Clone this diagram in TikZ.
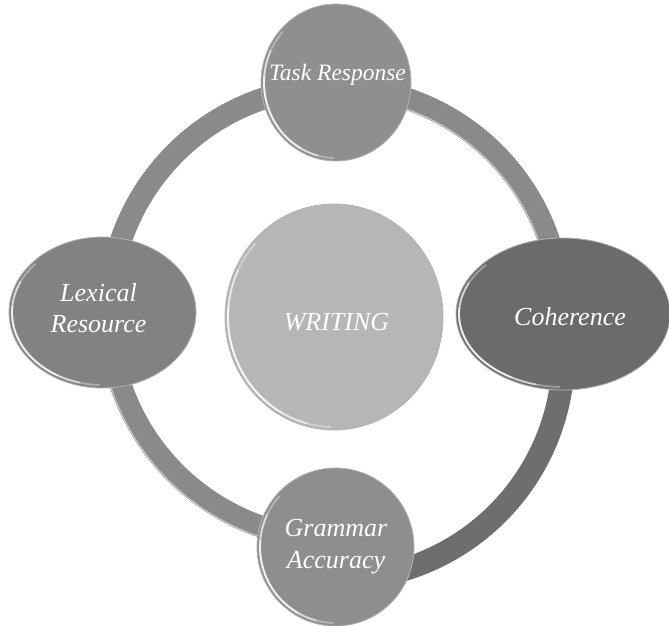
\documentclass[tikz,border=0pt]{standalone}
\usepackage{fontspec}
\setmainfont{Liberation Serif}
\usetikzlibrary{shapes.geometric,calc}
\definecolor{ringc}{HTML}{8A8A8A}
\definecolor{ringd}{HTML}{6E6E6E}
\definecolor{trc}{HTML}{8F8F8F}
\definecolor{lrc}{HTML}{828282}
\definecolor{coc}{HTML}{6B6B6B}
\definecolor{gac}{HTML}{8E8E8E}
\definecolor{wrc}{HTML}{B6B6B6}
\tikzset{
  bubble/.style={ellipse, inner sep=0pt, draw=black!30, line width=0.8pt},
  lbl/.style={text=white, font=\fontsize{26}{32}\selectfont\itshape, anchor=base, inner sep=0pt},
  ringband/.style={line width=22pt, draw=ringc},
  rimhi/.style={draw=white, line cap=round, line width=1.8pt},
  ringhi/.style={draw=white, opacity=.6, line width=1pt},
}
\newcommand\rimlight[3]{%
  \draw[rimhi, opacity=.35] ($(#1.center)+(92:#2 and #3)$) arc[start angle=92,end angle=222,x radius=#2,y radius=#3];
  \draw[rimhi, opacity=.55] ($(#1.center)+(105:#2 and #3)$) arc[start angle=105,end angle=205,x radius=#2,y radius=#3];
  \draw[rimhi, opacity=.6] ($(#1.center)+(120:#2 and #3)$) arc[start angle=120,end angle=185,x radius=#2,y radius=#3];}
\begin{document}
\begin{tikzpicture}[x=1pt,y=-1pt]
\useasboundingbox (0,0) rectangle (669,626);
\coordinate (rc) at (335,313);
\coordinate (rc2) at (338,354);
% ring
\draw[ringband] ($(rc)+(85:226)$) arc[start angle=85,end angle=365,radius=226];
\draw[ringband, draw=ringd, line width=23pt] ($(rc2)+(-10:225.5)$) arc[start angle=-10,end angle=95,radius=225.5];
\draw[ringhi] ($(rc)+(270:216)$) arc[start angle=270,end angle=355,radius=216];
\draw[ringhi] ($(rc)+(95:236)$) arc[start angle=95,end angle=175,radius=236];
% bubbles
\node[bubble, fill=wrc, minimum width=218pt, minimum height=226pt] (wr) at (334,317) {};
\rimlight{wr}{106}{110}
\node[bubble, fill=trc, minimum width=150pt, minimum height=157pt] (tr) at (336,82.5) {};
\rimlight{tr}{72}{75.5}
\node[bubble, fill=lrc, minimum width=187pt, minimum height=151pt] (lr) at (102.5,312.5) {};
\rimlight{lr}{90.5}{72.5}
\node[bubble, fill=coc, minimum width=214pt, minimum height=152pt] (co) at (563,314) {};
\rimlight{co}{104}{73}
\node[bubble, fill=gac, minimum width=157pt, minimum height=158pt] (ga) at (335.5,547) {};
\rimlight{ga}{75.5}{76}
% labels
\node[lbl, font=\fontsize{23.5}{28}\selectfont\itshape] (trt) at (337.5,81) {Task Response};
\node[lbl] (lrt1) at (98.5,301) {Lexical};
\node[lbl] (lrt2) at (98.5,332) {Resource};
\node[lbl] (cot) at (570,325) {Coherence};
\node[lbl] (wrt) at (336.5,330) {WRITING};
\node[lbl] (gat1) at (336,536) {Grammar};
\node[lbl] (gat2) at (336,568) {Accuracy};
\end{tikzpicture}
\end{document}
